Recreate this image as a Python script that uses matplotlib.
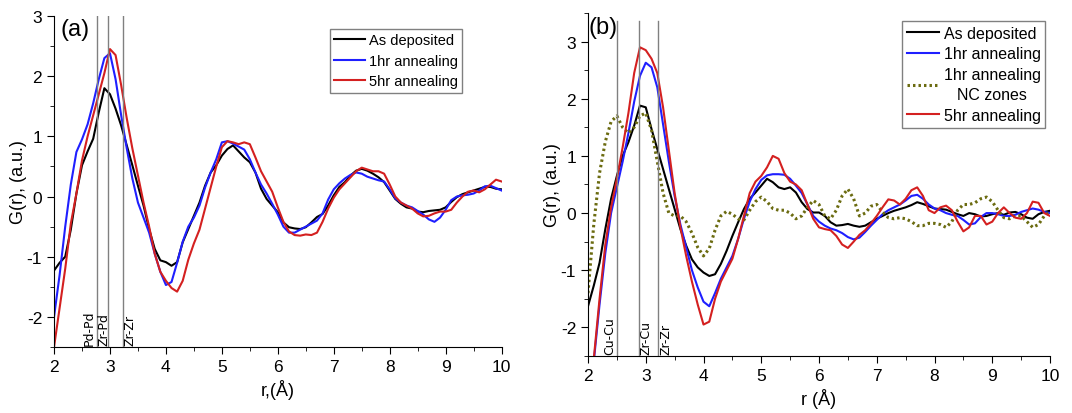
import numpy as np
import matplotlib
matplotlib.use('Agg')
import matplotlib.pyplot as plt
from matplotlib.ticker import MultipleLocator

plt.rcParams['font.family'] = ['Liberation Sans', 'DejaVu Sans']
plt.rcParams['axes.unicode_minus'] = False

r = np.round(np.arange(2.0, 10.01, 0.1), 1)

# ---- panel (a) ----
a_asdep = [-1.23, -1.10, -1.00, -0.55, 0.05, 0.52, 0.75, 0.96, 1.40, 1.80,
           1.70, 1.46, 1.18, 0.85, 0.52, 0.18, -0.15, -0.54, -0.87, -1.06,
           -1.09, -1.15, -1.09, -0.76, -0.54, -0.32, -0.10, 0.18, 0.40, 0.52,
           0.68, 0.79, 0.85, 0.75, 0.65, 0.57, 0.40, 0.13, -0.04, -0.15,
           -0.26, -0.43, -0.51, -0.53, -0.54, -0.51, -0.43, -0.34, -0.29, -0.15,
           0.02, 0.16, 0.24, 0.35, 0.43, 0.46, 0.43, 0.38, 0.32, 0.24,
           0.10, -0.04, -0.12, -0.18, -0.20, -0.25, -0.26, -0.24, -0.23, -0.22,
           -0.18, -0.09, -0.01, 0.04, 0.07, 0.10, 0.13, 0.16, 0.16, 0.13,
           0.12]
a_1hr = [-2.00, -1.30, -0.50, 0.20, 0.74, 0.95, 1.20, 1.55, 1.95, 2.30,
         2.38, 1.95, 1.35, 0.80, 0.30, -0.10, -0.35, -0.60, -0.95, -1.25,
         -1.47, -1.42, -1.10, -0.75, -0.50, -0.35, -0.15, 0.15, 0.40, 0.62,
         0.90, 0.92, 0.88, 0.83, 0.78, 0.62, 0.40, 0.20, 0.05, -0.12,
         -0.30, -0.50, -0.60, -0.60, -0.55, -0.50, -0.45, -0.40, -0.28, -0.05,
         0.12, 0.22, 0.30, 0.36, 0.40, 0.38, 0.33, 0.30, 0.27, 0.25,
         0.12, -0.03, -0.10, -0.15, -0.18, -0.24, -0.30, -0.38, -0.42, -0.35,
         -0.22, -0.06, 0.00, 0.02, 0.03, 0.05, 0.10, 0.17, 0.18, 0.14,
         0.10]
a_5hr = [-2.50, -1.85, -1.20, -0.45, 0.05, 0.60, 1.00, 1.35, 1.70, 2.05,
         2.45, 2.35, 1.85, 1.30, 0.80, 0.35, -0.10, -0.50, -0.95, -1.25,
         -1.40, -1.52, -1.58, -1.40, -1.05, -0.78, -0.55, -0.20, 0.15, 0.50,
         0.82, 0.92, 0.90, 0.87, 0.90, 0.87, 0.65, 0.42, 0.25, 0.08,
         -0.18, -0.42, -0.58, -0.64, -0.65, -0.63, -0.64, -0.60, -0.42, -0.20,
         -0.02, 0.12, 0.22, 0.32, 0.42, 0.48, 0.45, 0.42, 0.42, 0.38,
         0.20, 0.00, -0.10, -0.15, -0.20, -0.28, -0.33, -0.32, -0.28, -0.25,
         -0.25, -0.22, -0.10, 0.00, 0.08, 0.10, 0.07, 0.12, 0.20, 0.28,
         0.25]
a_bonds = ['Pd-Pd', 'Zr-Pd', 'Zr-Zr']
a_bond_r = [2.76, 2.97, 3.24]

# ---- panel (b) ----
b_asdep = [-1.63, -1.27, -0.87, -0.28, 0.25, 0.65, 1.00, 1.24, 1.53, 1.88,
           1.85, 1.47, 1.12, 0.77, 0.42, 0.07, -0.28, -0.57, -0.81, -0.95,
           -1.04, -1.10, -1.07, -0.89, -0.66, -0.40, -0.16, 0.07, 0.25, 0.36,
           0.48, 0.60, 0.54, 0.45, 0.42, 0.45, 0.36, 0.19, 0.07, 0.01,
           0.01, -0.05, -0.16, -0.22, -0.21, -0.19, -0.22, -0.24, -0.22, -0.16,
           -0.10, -0.05, 0.00, 0.04, 0.07, 0.10, 0.14, 0.19, 0.16, 0.12,
           0.08, 0.07, 0.06, 0.02, -0.02, -0.05, 0.00, -0.02, -0.06, -0.05,
           -0.02, 0.00, -0.03, 0.01, 0.02, -0.02, -0.08, -0.10, -0.02, 0.02,
           0.04]
b_1hr = [-3.60, -2.60, -1.60, -0.70, 0.00, 0.45, 0.90, 1.40, 1.95, 2.40,
         2.63, 2.55, 2.20, 1.55, 0.90, 0.30, -0.20, -0.60, -1.00, -1.30,
         -1.55, -1.63, -1.40, -1.15, -0.95, -0.75, -0.45, -0.10, 0.20, 0.42,
         0.58, 0.66, 0.68, 0.68, 0.67, 0.60, 0.48, 0.35, 0.15, -0.05,
         -0.15, -0.22, -0.27, -0.30, -0.35, -0.42, -0.46, -0.43, -0.33, -0.22,
         -0.12, -0.02, 0.05, 0.10, 0.15, 0.22, 0.30, 0.32, 0.25, 0.15,
         0.08, 0.05, 0.00, -0.03, -0.05, -0.12, -0.20, -0.18, -0.07, 0.00,
         0.00, -0.02, -0.05, -0.05, -0.03, 0.02, 0.05, 0.08, 0.06, 0.02,
         0.00]
b_1hr_nc = [-1.40, -0.20, 0.70, 1.25, 1.60, 1.70, 1.50, 1.40, 1.50, 1.70,
            1.75, 1.45, 0.90, 0.35, 0.00, -0.05, -0.05, -0.15, -0.35, -0.60,
            -0.75, -0.62, -0.30, -0.05, 0.03, -0.02, -0.10, -0.12, 0.05, 0.20,
            0.28, 0.20, 0.08, 0.05, 0.05, 0.00, -0.10, -0.05, 0.10, 0.22,
            0.15, -0.05, -0.10, 0.05, 0.30, 0.42, 0.25, -0.05, 0.00, 0.12,
            0.15, 0.02, -0.08, -0.10, -0.08, -0.10, -0.15, -0.22, -0.22, -0.18,
            -0.18, -0.20, -0.25, -0.15, 0.05, 0.15, 0.15, 0.18, 0.25, 0.28,
            0.20, 0.05, -0.08, -0.10, -0.05, -0.05, -0.15, -0.25, -0.20, -0.05,
            0.02]
b_5hr = [-3.80, -2.55, -1.50, -0.55, 0.10, 0.60, 1.15, 1.75, 2.45, 2.90,
         2.85, 2.70, 2.45, 1.85, 1.10, 0.35, -0.25, -0.75, -1.20, -1.60,
         -1.95, -1.90, -1.50, -1.20, -1.00, -0.80, -0.45, -0.05, 0.35, 0.55,
         0.65, 0.80, 1.00, 0.95, 0.70, 0.55, 0.50, 0.40, 0.15, -0.10,
         -0.25, -0.28, -0.30, -0.40, -0.55, -0.61, -0.50, -0.38, -0.30, -0.18,
         -0.05, 0.10, 0.24, 0.22, 0.15, 0.25, 0.40, 0.45, 0.30, 0.05,
         0.00, 0.10, 0.13, 0.05, -0.15, -0.32, -0.25, -0.05, -0.05, -0.20,
         -0.15, 0.00, 0.10, 0.00, -0.08, -0.10, 0.00, 0.20, 0.18, 0.00,
         -0.05]
b_bonds = ['Cu-Cu', 'Zr-Cu', 'Zr-Zr']
b_bond_r = [2.51, 2.88, 3.22]

blue = '#1f1fff'
red = '#d42020'
olive = '#6b6b10'

fig = plt.figure(figsize=(10.72, 4.14), dpi=100)
ax1 = fig.add_axes([0.0504, 0.1594, 0.4175, 0.7996])
ax2 = fig.add_axes([0.5485, 0.1377, 0.431, 0.8285])


def style(ax, ylo, yhi):
    ax.set_xlim(2, 10)
    ax.set_ylim(ylo, yhi)
    ax.spines['top'].set_visible(False)
    ax.spines['right'].set_visible(False)
    ax.xaxis.set_major_locator(MultipleLocator(1))
    ax.xaxis.set_minor_locator(MultipleLocator(0.5))
    ax.yaxis.set_major_locator(MultipleLocator(1))
    ax.yaxis.set_minor_locator(MultipleLocator(0.5))
    ax.tick_params(which='major', direction='out', length=5, labelsize=12.5)
    ax.tick_params(which='minor', direction='out', length=3)
    ax.set_ylabel('G(r), (a.u.)', fontsize=13, labelpad=0)


lab_kw = dict(rotation=90, va='bottom', fontsize=9, family='DejaVu Sans')

# panel (a)
style(ax1, -2.5, 3)
ax1.plot(r, a_asdep, color='black', lw=1.5, label='As deposited')
ax1.plot(r, a_1hr, color=blue, lw=1.5, label='1hr annealing')
ax1.plot(r, a_5hr, color=red, lw=1.5, label='5hr annealing')
for x in a_bond_r:
    ax1.axvline(x, color='grey', lw=1.0)
ax1.text(a_bond_r[0] - 0.02, -2.47, a_bonds[0], ha='right', **lab_kw)
ax1.text(a_bond_r[0] + 0.01, -2.47, a_bonds[1], ha='left', **lab_kw)
ax1.text(a_bond_r[2] + 0.01, -2.47, a_bonds[2], ha='left', **lab_kw)
ax1.text(0.015, 0.995, '(a)', transform=ax1.transAxes, ha='left', va='top', fontsize=17)
ax1.set_xlabel('r,(Å)', fontsize=13)
leg1 = ax1.legend(loc='upper left', bbox_to_anchor=(0.616, 0.961), borderaxespad=0,
                  fontsize=10.5, fancybox=False, edgecolor='grey', framealpha=1,
                  handlelength=2.1, handletextpad=0.3, borderpad=0.3, labelspacing=0.45)

# panel (b)
style(ax2, -2.5, 3.5)
ax2.plot(r, b_asdep, color='black', lw=1.5, label='As deposited')
ax2.plot(r, b_1hr, color=blue, lw=1.5, label='1hr annealing')
ax2.plot(r, b_1hr_nc, color=olive, lw=2.2, ls=(0, (0.8, 1.0)), label='1hr annealing\nNC zones')
ax2.plot(r, b_5hr, color=red, lw=1.5, label='5hr annealing')
for x in b_bond_r:
    ax2.axvline(x, ymax=0.977, color='grey', lw=1.0)
ax2.text(b_bond_r[0] - 0.02, -2.47, b_bonds[0], ha='right', **lab_kw)
ax2.text(b_bond_r[1] + 0.01, -2.47, b_bonds[1], ha='left', **lab_kw)
ax2.text(b_bond_r[2] + 0.01, -2.47, b_bonds[2], ha='left', **lab_kw)
ax2.text(0.002, 0.99, '(b)', transform=ax2.transAxes, ha='left', va='top', fontsize=17)
ax2.set_xlabel('r (Å)', fontsize=13)
leg2 = ax2.legend(loc='upper left', bbox_to_anchor=(0.68, 0.977), borderaxespad=0,
                  fontsize=11.5, fancybox=False, edgecolor='grey', framealpha=1,
                  handlelength=2.0, handletextpad=0.3, borderpad=0.3, labelspacing=0.35)
for t in leg2.get_texts():
    t.set_multialignment('center')
    t.set_linespacing(1.45)

fig.savefig('out.png', dpi=100)
